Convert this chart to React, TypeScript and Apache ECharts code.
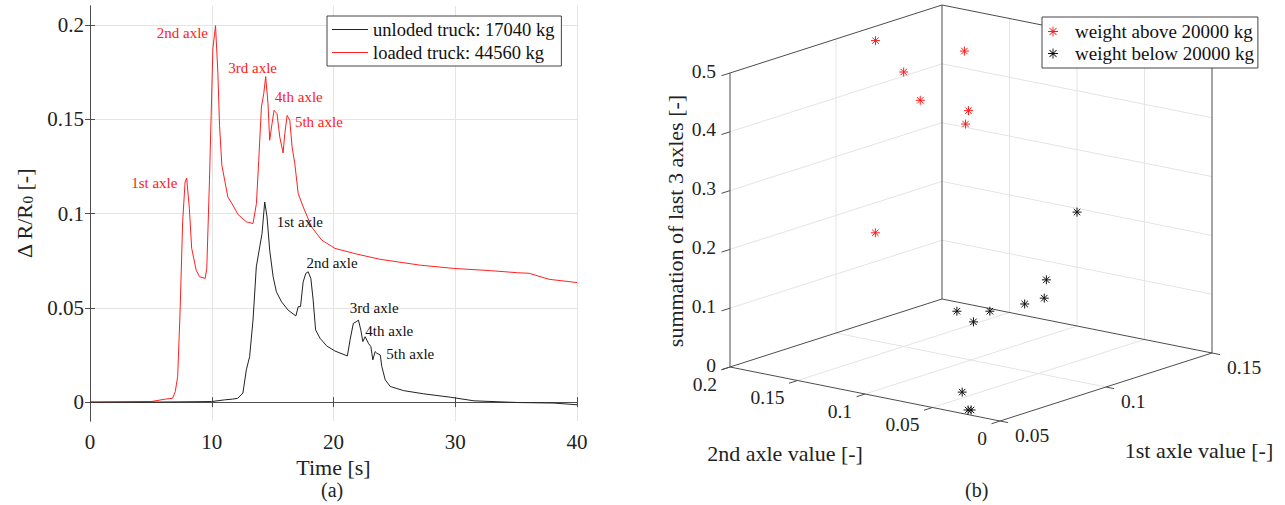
import React, { useEffect, useRef } from "react";
import * as echarts from "echarts";

// ---------- (a) time histories ----------
const loadedTime = [0, 5.03, 6.1, 6.79, 7.0, 7.2, 7.39, 7.61, 7.81, 7.94, 8.16, 8.35, 8.72, 8.99, 9.46, 9.59, 9.81, 9.95, 10.09, 10.31, 10.5, 10.64, 10.83, 11.32, 11.74, 12.15, 12.84, 13.39, 13.67, 13.86, 14.08, 14.27, 14.43, 14.62, 14.76, 14.95, 15.12, 15.36, 15.59, 15.86, 16.0, 16.19, 16.41, 16.6, 16.82, 17.1, 17.51, 18.2, 19.03, 20.12, 21.9, 23.84, 27.13, 29.86, 32.9, 35.11, 36.07, 37.72, 40];
const loadedValue = [0, 0.0003, 0.0015, 0.0021, 0.0055, 0.0135, 0.0462, 0.0956, 0.1167, 0.1188, 0.1028, 0.0816, 0.07, 0.0665, 0.0656, 0.0709, 0.1167, 0.152, 0.1873, 0.1996, 0.1749, 0.1467, 0.1256, 0.1088, 0.1044, 0.0995, 0.0956, 0.0947, 0.1053, 0.1282, 0.1564, 0.1635, 0.1726, 0.1582, 0.1388, 0.1476, 0.1547, 0.1529, 0.1405, 0.1321, 0.1423, 0.152, 0.1494, 0.1352, 0.1265, 0.1106, 0.1035, 0.0929, 0.0859, 0.0815, 0.0785, 0.0757, 0.0726, 0.0709, 0.0697, 0.0686, 0.0683, 0.0651, 0.0634];
const unloadedTime = [0, 5, 9.98, 11.05, 11.71, 12.12, 12.56, 12.84, 13.11, 13.39, 13.66, 13.94, 14.13, 14.35, 14.54, 14.76, 15.04, 15.31, 15.73, 16.27, 16.91, 17.1, 17.29, 17.51, 17.73, 17.92, 18.14, 18.33, 18.53, 18.89, 19.44, 20.12, 21.14, 21.36, 21.63, 21.86, 22.05, 22.24, 22.41, 22.6, 22.87, 23.07, 23.23, 23.42, 23.56, 23.84, 23.97, 24.25, 24.66, 25.76, 27.41, 29.61, 31.53, 35.11, 38.13, 40];
const unloadedValue = [0, 0, 0.0003, 0.0012, 0.0016, 0.002, 0.0048, 0.0171, 0.0241, 0.0435, 0.0717, 0.0823, 0.0894, 0.1061, 0.0982, 0.0806, 0.0665, 0.0585, 0.0532, 0.0488, 0.0457, 0.0506, 0.0506, 0.0638, 0.0683, 0.0691, 0.0656, 0.0541, 0.0383, 0.0339, 0.0298, 0.0271, 0.0245, 0.033, 0.0418, 0.0426, 0.0435, 0.0383, 0.0321, 0.0347, 0.0312, 0.0294, 0.0224, 0.0268, 0.0259, 0.025, 0.0188, 0.0118, 0.0083, 0.0061, 0.0044, 0.0026, 0.0007, -0.0002, -0.0005, -0.0014];

const lineNames = ["unloded truck: 17040 kg", "loaded truck: 44560 kg"];
const timeTicks = [0, 10, 20, 30, 40];
const ratioTicks = [0, 0.05, 0.1, 0.15, 0.2];
const axleLabels = ["1st axle", "2nd axle", "3rd axle", "4th axle", "5th axle"];
const loadedAxleAt = [[5.28, 0.116], [7.59, 0.1959], [13.36, 0.1769], [17.15, 0.1615], [18.8, 0.1483]];
const unloadedAxleAt = [[17.24, 0.0954], [19.88, 0.0737], [23.34, 0.0499], [24.58, 0.0377], [26.31, 0.0256]];

// ---------- (b) 3D scatter ----------
const scatterNames = ["weight above 20000 kg", "weight below 20000 kg"];
const aboveFirst = [0.111, 0.109, 0.113, 0.123, 0.123, 0.121, 0.102];
const aboveSecond = [0.188, 0.164, 0.158, 0.141, 0.138, 0.137, 0.174];
const aboveSum = [0.49, 0.45, 0.4, 0.48, 0.38, 0.36, 0.18];
const belowFirst = [0.136, 0.133, 0.132, 0.1285, 0.121, 0.115, 0.119, 0.064, 0.0515, 0.0526];
const belowSecond = [0.078, 0.096, 0.096, 0.105, 0.119, 0.134, 0.128, 0.05, 0.026, 0.0255];
const belowSum = [0.22, 0.1, 0.07, 0.06, 0.05, 0.05, 0.03, 0.01, 0.005, 0.004];
const firstAxleTicks = [0.05, 0.1, 0.15];
const secondAxleTicks = [0, 0.05, 0.1, 0.15, 0.2];
const sumTicks = [0, 0.1, 0.2, 0.3, 0.4, 0.5];

const FONT = "Liberation Serif";
const TXT = "#222";
const GRID = "#e4e4e4";
const EDGE = "#4d4d4d";

// 3D view (layout): ranges and screen vectors of the box
const R1 = [0.05, 0.15];
const R2 = [0, 0.2];
const RZ = [0, 0.5];
const ORIGIN = [730, 367];
const E1 = [212, -68];
const E2 = [270, 54];
const EZ = [0, -294];
function proj(x1: number, x2: number, z: number) {
  const a = (x1 - R1[0]) / (R1[1] - R1[0]);
  const b = (R2[1] - x2) / (R2[1] - R2[0]);
  const c = (z - RZ[0]) / (RZ[1] - RZ[0]);
  return [
    ORIGIN[0] + a * E1[0] + b * E2[0] + c * EZ[0],
    ORIGIN[1] + a * E1[1] + b * E2[1] + c * EZ[1],
  ];
}

const asteriskIcon = (() => {
  const parts: string[] = [];
  [0, 45, 90, 135].forEach((deg) => {
    const a = (deg * Math.PI) / 180;
    const L = 10, W = 0.9, cx = 10, cy = 10;
    const dx = Math.sin(a), dy = -Math.cos(a);
    const nx = -dy, ny = dx;
    const pts = [
      [cx + dx * L + nx * W, cy + dy * L + ny * W],
      [cx + dx * L - nx * W, cy + dy * L - ny * W],
      [cx - dx * L - nx * W, cy - dy * L - ny * W],
      [cx - dx * L + nx * W, cy - dy * L + ny * W],
    ];
    parts.push("M" + pts.map((p) => p[0].toFixed(2) + " " + p[1].toFixed(2)).join("L") + "Z");
  });
  return "path://" + parts.join("");
})();

export default function App() {
  const ref = useRef<HTMLDivElement>(null);
  useEffect(() => {
    if (!ref.current) return;
    const chart = echarts.init(ref.current, null, { renderer: "svg" });

    const renderBox = (_params: any, api: any) => {
      const P = (a: number, b: number, c: number) => api.coord(proj(a, b, c));
      const ch: any[] = [];
      const line = (p: number[], q: number[], stroke: string) =>
        ch.push({ type: "line", shape: { x1: p[0], y1: p[1], x2: q[0], y2: q[1] }, style: { stroke, lineWidth: 1 } });
      const text = (s: string, x: number, y: number, align: string) =>
        ch.push({ type: "text", style: { text: s, x, y, align, verticalAlign: "middle", lineHeight: 16, fill: TXT, font: `19.5px "${FONT}"` } });
      const inner = (t: number, r: number[]) => t > r[0] + 1e-9 && t < r[1] - 1e-9;
      // floor grid
      firstAxleTicks.filter((t) => inner(t, R1)).forEach((t) => line(P(t, R2[0], RZ[0]), P(t, R2[1], RZ[0]), GRID));
      secondAxleTicks.filter((t) => inner(t, R2)).forEach((t) => line(P(R1[0], t, RZ[0]), P(R1[1], t, RZ[0]), GRID));
      // left back wall (x2 = max)
      sumTicks.filter((t) => inner(t, RZ)).forEach((t) => line(P(R1[0], R2[1], t), P(R1[1], R2[1], t), GRID));
      firstAxleTicks.filter((t) => inner(t, R1)).forEach((t) => line(P(t, R2[1], RZ[0]), P(t, R2[1], RZ[1]), GRID));
      // right back wall (x1 = max)
      sumTicks.filter((t) => inner(t, RZ)).forEach((t) => line(P(R1[1], R2[1], t), P(R1[1], R2[0], t), GRID));
      secondAxleTicks.filter((t) => inner(t, R2)).forEach((t) => line(P(R1[1], t, RZ[0]), P(R1[1], t, RZ[1]), GRID));
      // edges
      line(P(R1[0], R2[1], RZ[0]), P(R1[0], R2[1], RZ[1]), EDGE);
      line(P(R1[1], R2[1], RZ[0]), P(R1[1], R2[1], RZ[1]), EDGE);
      line(P(R1[1], R2[0], RZ[0]), P(R1[1], R2[0], RZ[1]), EDGE);
      line(P(R1[0], R2[1], RZ[1]), P(R1[1], R2[1], RZ[1]), EDGE);
      line(P(R1[1], R2[1], RZ[1]), P(R1[1], R2[0], RZ[1]), EDGE);
      line(P(R1[0], R2[1], RZ[0]), P(R1[1], R2[1], RZ[0]), EDGE);
      line(P(R1[1], R2[1], RZ[0]), P(R1[1], R2[0], RZ[0]), EDGE);
      line(P(R1[0], R2[1], RZ[0]), P(R1[0], R2[0], RZ[0]), EDGE);
      line(P(R1[0], R2[0], RZ[0]), P(R1[1], R2[0], RZ[0]), EDGE);
      // ticks + labels
      sumTicks.forEach((t) => {
        const p = P(R1[0], R2[1], t);
        line(p, P(R1[0] - 0.004, R2[1], t), EDGE);
        text(String(t), p[0] - 14, p[1] - 2, "right");
      });
      secondAxleTicks.forEach((t) => {
        const p = P(R1[0], t, RZ[0]);
        line(p, P(R1[0] - 0.004, t, RZ[0]), EDGE);
        text(String(t), p[0] - 13, p[1] + 17, "right");
      });
      firstAxleTicks.forEach((t) => {
        const p = P(t, R2[0], RZ[0]);
        line(p, P(t, R2[0] - 0.006, RZ[0]), EDGE);
        text(String(t), p[0] + 15, p[1] + 14, "left");
      });
      return { type: "group", children: ch };
    };

    const renderStar = (_params: any, api: any) => {
      const c = api.coord(proj(api.value(0), api.value(1), api.value(2)));
      const r = 4.5, d = r * 0.72;
      const color = api.visual("color");
      const segs = [[0, -r, 0, r], [-r, 0, r, 0], [-d, -d, d, d], [-d, d, d, -d]];
      return {
        type: "group",
        children: segs.map((s) => ({
          type: "line",
          shape: { x1: c[0] + s[0], y1: c[1] + s[1], x2: c[0] + s[2], y2: c[1] + s[3] },
          style: { stroke: color, lineWidth: 1 },
        })),
      };
    };

    const annot = (at: number[][], color: string) => ({
      symbol: "circle",
      symbolSize: 1,
      silent: true,
      itemStyle: { color: "rgba(0,0,0,0)" },
      label: { show: true, position: "inside", formatter: "{b}", color, fontFamily: FONT, fontSize: 15 },
      data: axleLabels.map((n, i) => ({ name: n, coord: at[i] })),
    });

    chart.setOption({
      animation: false,
      backgroundColor: "#fff",
      textStyle: { fontFamily: FONT },
      grid: [
        { left: 90, top: 6, width: 487, height: 415 },
        { left: 0, top: 0, right: 0, bottom: 0 },
      ],
      legend: [
        {
          left: 327, top: 16, orient: "vertical", selectedMode: false,
          backgroundColor: "#fff", borderColor: "#444", borderWidth: 1, borderRadius: 0,
          padding: [4, 7, 4, 5], itemWidth: 36, itemHeight: 1, itemGap: 4,
          textStyle: { fontFamily: FONT, fontSize: 18.5, lineHeight: 18, color: "#111" },
          data: lineNames.map((n) => ({ name: n, icon: "rect" })),
        },
        {
          left: 1042, top: 17, orient: "vertical", selectedMode: false,
          backgroundColor: "#fff", borderColor: "#444", borderWidth: 1, borderRadius: 0,
          padding: [5, 4, 5, 6], itemWidth: 34, itemHeight: 10, itemGap: 3,
          textStyle: { fontFamily: FONT, fontSize: 19, lineHeight: 18, color: "#111" },
          data: scatterNames.map((n) => ({ name: n, icon: asteriskIcon })),
        },
      ],
      xAxis: [
        {
          type: "value", gridIndex: 0, min: timeTicks[0], max: timeTicks[timeTicks.length - 1], interval: 10,
          name: "Time [s]", nameLocation: "middle", nameGap: 33,
          nameTextStyle: { fontFamily: FONT, fontSize: 22, color: TXT },
          axisLine: { show: true, lineStyle: { color: EDGE, width: 1 } },
          axisTick: { show: true, inside: true, length: 5, lineStyle: { color: EDGE } },
          axisLabel: { fontFamily: FONT, fontSize: 21, color: TXT, margin: 10 },
          splitLine: { show: true, lineStyle: { color: GRID, width: 1 } },
        },
        {
          type: "value", gridIndex: 0, position: "top", min: 0, max: 40, interval: 10,
          axisLine: { show: true, lineStyle: { color: EDGE, width: 1 } },
          axisTick: { show: true, inside: true, length: 5, lineStyle: { color: EDGE } },
          axisLabel: { show: false }, splitLine: { show: false },
        },
        { type: "value", gridIndex: 1, min: 0, max: 1285, show: false },
      ],
      yAxis: [
        {
          type: "value", gridIndex: 0, min: -0.01, max: 0.21,
          name: "\u0394 R/R{s|0} [-]", nameLocation: "middle", nameGap: 55,
          nameTextStyle: {
            fontFamily: FONT, fontSize: 22, color: TXT,
            rich: { s: { fontFamily: FONT, fontSize: 15, color: TXT, verticalAlign: "bottom", lineHeight: 15 } },
          },
          axisLine: { show: true, lineStyle: { color: EDGE, width: 1 } },
          axisTick: { show: true, inside: true, length: 5, lineStyle: { color: EDGE }, customValues: ratioTicks },
          axisLabel: { fontFamily: FONT, fontSize: 21, color: TXT, margin: 6, customValues: ratioTicks, formatter: (v: number) => String(v) },
          splitLine: { show: true, lineStyle: { color: GRID, width: 1 } },
        },
        {
          type: "value", gridIndex: 0, position: "right", min: -0.01, max: 0.21,
          axisLine: { show: true, lineStyle: { color: EDGE, width: 1 } },
          axisTick: { show: true, inside: true, length: 5, lineStyle: { color: EDGE }, customValues: ratioTicks },
          axisLabel: { show: false, customValues: ratioTicks }, splitLine: { show: false },
        },
        { type: "value", gridIndex: 1, min: 0, max: 505, inverse: true, show: false },
      ],
      graphic: [
        { type: "text", left: 321, top: 480, style: { text: "(a)", font: `20px "${FONT}"`, fill: TXT } },
        { type: "text", left: 965, top: 480, style: { text: "(b)", font: `20px "${FONT}"`, fill: TXT } },
        { type: "text", x: 785, y: 453, style: { text: "2nd axle value [-]", font: `22px "${FONT}"`, fill: TXT, align: "center", verticalAlign: "middle" } },
        { type: "text", x: 1199, y: 450, style: { text: "1st axle value [-]", font: `22px "${FONT}"`, fill: TXT, align: "center", verticalAlign: "middle" } },
        { type: "text", x: 675, y: 221, rotation: Math.PI / 2, style: { text: "summation of last 3 axles [-]", font: `22px "${FONT}"`, fill: TXT, align: "center", verticalAlign: "middle" } },
      ],
      series: [
        {
          name: lineNames[0], type: "line", xAxisIndex: 0, yAxisIndex: 0, symbol: "none",
          lineStyle: { color: "#222", width: 1 }, itemStyle: { color: "#222" },
          data: unloadedTime.map((t, i) => [t, unloadedValue[i]]),
          markPoint: annot(unloadedAxleAt, "#111"),
          z: 3,
        },
        {
          name: lineNames[1], type: "line", xAxisIndex: 0, yAxisIndex: 0, symbol: "none",
          lineStyle: { color: "#ff2020", width: 1 }, itemStyle: { color: "#ff2020" },
          data: loadedTime.map((t, i) => [t, loadedValue[i]]),
          markPoint: annot(loadedAxleAt, "#ff2020"),
          z: 2,
        },
        {
          type: "custom", name: "box", xAxisIndex: 2, yAxisIndex: 2, clip: false, silent: true,
          renderItem: renderBox, data: [[0, 0]], z: 1,
        },
        {
          type: "custom", name: scatterNames[0], xAxisIndex: 2, yAxisIndex: 2, clip: false,
          itemStyle: { color: "#ff1a1a" }, renderItem: renderStar,
          data: aboveFirst.map((v, i) => [v, aboveSecond[i], aboveSum[i]]), z: 4,
        },
        {
          type: "custom", name: scatterNames[1], xAxisIndex: 2, yAxisIndex: 2, clip: false,
          itemStyle: { color: "#111" }, renderItem: renderStar,
          data: belowFirst.map((v, i) => [v, belowSecond[i], belowSum[i]]), z: 4,
        },
      ],
    });
    return () => chart.dispose();
  }, []);
  return <div ref={ref} style={{ position: "fixed", left: 0, top: 0, width: 1285, height: 505 }} />;
}
